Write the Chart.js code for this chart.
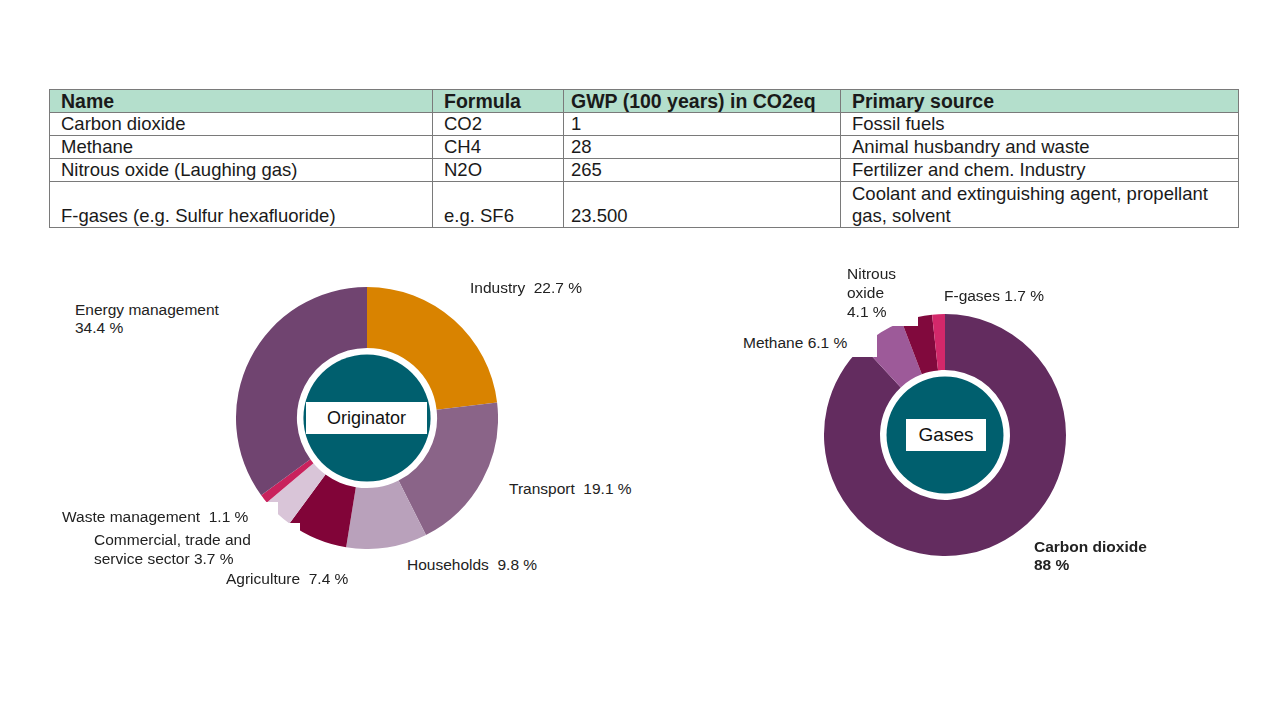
<!DOCTYPE html>
<html>
<head>
<meta charset="utf-8">
<script src="https://cdn.jsdelivr.net/npm/chart.js@4.4.0/dist/chart.umd.min.js"></script>
<style>
    body { margin: 0; background: #fff; font-family: "Liberation Sans", Arial, sans-serif; color: #1a1a1a; }
    #page { position: relative; width: 1280px; height: 720px; overflow: hidden; }
    table.gwp { position: absolute; left: 49px; top: 89px; width: 1189px; border-collapse: collapse; font-size: 18.5px; table-layout: fixed; }
    table.gwp td, table.gwp th { border: 1px solid #7a7a7a; padding: 0 0 0 11px; line-height: 22px; vertical-align: bottom; text-align: left; height: 22px; white-space: nowrap; overflow: hidden; }
    table.gwp th { background: #b4dfcc; font-weight: bold; font-size: 19.5px; }
    table.gwp td:nth-child(3), table.gwp th:nth-child(3) { padding-left: 7px; }
    table.gwp td:nth-child(4) { white-space: normal; padding-right: 24px; }
    table.gwp tr.tall td { height: 45px; }
    canvas { position: absolute; }
    .lbl { position: absolute; font-size: 15.5px; line-height: 18px; white-space: pre; color: #222; }
    .box { background: #fff; }
    .center { position: absolute; background: #fff; text-align: center; color: #111; }
</style>
</head>
<body>
<div id="page">
    <table class="gwp" id="tabela"></table>

    <canvas id="graficoOrigem" width="262" height="262" style="left:236px; top:287px;"></canvas>
    <canvas id="graficoGases" width="242" height="242" style="left:824px; top:314px;"></canvas>

    <div class="center" style="left:306px; top:402px; width:121px; height:32px; line-height:32px; font-size:18px;">Originator</div>
    <div class="center" style="left:906px; top:419px; width:80px; height:32px; line-height:32px; font-size:19px;">Gases</div>

    <div id="labels"></div>
</div>

<script>
const tableHeader = ['Name', 'Formula', 'GWP (100 years) in CO2eq', 'Primary source'];
const gasNames = ['Carbon dioxide', 'Methane', 'Nitrous oxide (Laughing gas)', 'F-gases (e.g. Sulfur hexafluoride)'];
const gasFormulas = ['CO2', 'CH4', 'N2O', 'e.g. SF6'];
const gasGwp = ['1', '28', '265', '23.500'];
const gasSources = ['Fossil fuels', 'Animal husbandry and waste', 'Fertilizer and chem. Industry', 'Coolant and extinguishing agent, propellant gas, solvent'];

const originCategories = ['Industry', 'Transport', 'Households', 'Agriculture', 'Commercial, trade and service sector', 'Waste management', 'Energy management'];
const originValues = [22.7, 19.1, 9.8, 7.4, 3.7, 1.1, 34.4];
const originColors = ['#d98300', '#8a6488', '#b9a1bb', '#810438', '#d9c5d8', '#c9225d', '#704470'];

const gasCategories = ['Carbon dioxide', 'Methane', 'Nitrous oxide', 'F-gases'];
const gasShares = [88, 6.1, 4.1, 1.7];
const gasColors = ['#632c5f', '#9d5a99', '#81093d', '#d3286a'];

const fmt = v => String(v).replace(/\.0$/, '') + ' %';

// table
const tabela = document.getElementById('tabela');
tabela.innerHTML =
    '<colgroup><col style="width:383px"><col style="width:131px"><col style="width:277px"><col style="width:398px"></colgroup>' +
    '<tr>' + tableHeader.map(h => `<th>${h}</th>`).join('') + '</tr>' +
    gasNames.map((nome, i) => `<tr class="${i === 3 ? 'tall' : ''}"><td>${nome}</td><td>${gasFormulas[i]}</td><td>${gasGwp[i]}</td><td>${gasSources[i]}</td></tr>`).join('');

// labels around the donuts
const labelSpecs = [
    { text: `${originCategories[0]}  ${fmt(originValues[0])}`, style: 'left:470px; top:279px;' },
    { text: `${originCategories[1]}  ${fmt(originValues[1])}`, style: 'left:509px; top:480px;' },
    { text: `${originCategories[2]}  ${fmt(originValues[2])}`, style: 'left:407px; top:556px;' },
    { text: `${originCategories[3]}  ${fmt(originValues[3])}`, style: 'left:226px; top:570px;' },
    { text: `Commercial, trade and\nservice sector ${fmt(originValues[4])}`, cls: 'box', style: 'left:88px; top:523px; width:212px; height:49px; padding:7px 0 0 6px; line-height:19px; box-sizing:border-box;' },
    { text: `${originCategories[5]}  ${fmt(originValues[5])}`, cls: 'box', style: 'left:55px; top:502px; width:223px; height:25px; padding:6px 0 0 7px; box-sizing:border-box;' },
    { text: `${originCategories[6]}\n${fmt(originValues[6])}`, style: 'left:75px; top:301px;' },
    { text: `${gasCategories[0]}\n${fmt(gasShares[0])}`, style: 'left:1034px; top:538px; font-weight:bold;' },
    { text: `${gasCategories[1]} ${fmt(gasShares[1])}`, cls: 'box', style: 'left:737px; top:325px; width:140px; height:32px; padding:9px 0 0 6px; box-sizing:border-box;' },
    { text: `Nitrous\noxide\n${fmt(gasShares[2])}`, cls: 'box', style: 'left:840px; top:262px; width:78px; height:64px; padding:2px 0 0 7px; line-height:19px; box-sizing:border-box;' },
    { text: `${gasCategories[3]} ${fmt(gasShares[3])}`, style: 'left:944px; top:287px;' }
];
const labelsEl = document.getElementById('labels');
labelSpecs.forEach(spec => {
    const div = document.createElement('div');
    div.className = 'lbl ' + (spec.cls || '');
    div.style.cssText = spec.style;
    div.textContent = spec.text;
    labelsEl.appendChild(div);
});

// teal centre disc inside the hole
const centroTeal = {
    id: 'centroTeal',
    afterDatasetsDraw(chart) {
        const arc = chart.getDatasetMeta(0).data[0];
        if (!arc) return;
        const ctx = chart.ctx;
        ctx.save();
        ctx.beginPath();
        ctx.arc(arc.x, arc.y, arc.innerRadius - 6.5, 0, Math.PI * 2);
        ctx.fillStyle = '#005f6e';
        ctx.fill();
        ctx.restore();
    }
};

function donut(id, labels, values, colors, cutout) {
    return new Chart(document.getElementById(id), {
        type: 'doughnut',
        data: {
            labels: labels,
            datasets: [{
                data: values,
                backgroundColor: colors,
                borderWidth: 0
            }]
        },
        options: {
            responsive: false,
            animation: false,
            cutout: cutout,
            layout: { padding: 0 },
            plugins: {
                legend: { display: false },
                tooltip: { enabled: false }
            }
        },
        plugins: [centroTeal]
    });
}

donut('graficoOrigem', originCategories, originValues, originColors, '53.5%');
donut('graficoGases', gasCategories, gasShares, gasColors, '53.7%');
</script>
</body>
</html>
